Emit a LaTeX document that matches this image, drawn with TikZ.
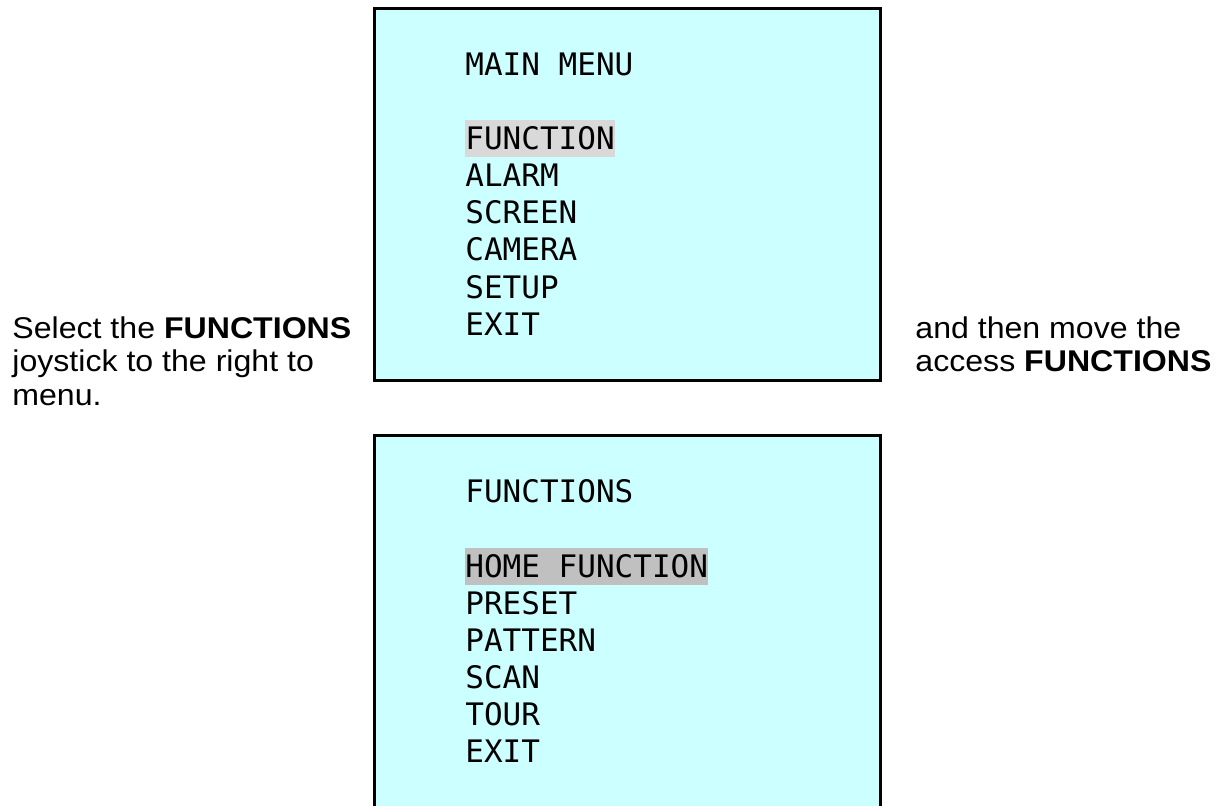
\documentclass[tikz,border=0pt]{standalone}
\usepackage{fontspec}
\setmainfont{Liberation Sans}[FakeStretch=1.07]
\setmonofont{DejaVu Sans Mono}
\usepackage{xcolor}
\usepackage{tikz}
\definecolor{screencyan}{HTML}{CCFFFF}
\definecolor{selgrey}{HTML}{D9D9D9}
\definecolor{seldark}{HTML}{C0C0C0}

\begin{document}
\begin{tikzpicture}[x=0.5pt, y=-0.5pt]
            \tikzset{
                screen/.style={draw, shape = rectangle, line width=1.5pt, fill=screencyan, inner sep=0pt, minimum width=253pt},
                item/.style={anchor=base west, inner sep=0pt, font=\fontsize{15.5}{18.5}\ttfamily},
                selected/.style={item, text height=14.5pt, text depth=4pt},
                note/.style={anchor=base west, inner sep=0pt, align=left, font=\fontsize{15}{16.75}\selectfont}
            }
            \useasboundingbox (0,0) rectangle (1218,805);
            \clip (0,0) rectangle (1218,805);

            % the two screens
            \node[screen, minimum height=186pt] (mainmenu) at (627.7,194.7) {};
            \node[screen, minimum height=210pt] (funcmenu) at (627.7,645.5) {};

            % main menu
            \node[item] (mainTitle) at (465,75) {MAIN MENU};
            \node[selected, fill=selgrey] (mainFunction) at (465,149) {FUNCTION};
            \foreach \label [count=\i] in {ALARM, SCREEN, CAMERA, SETUP, EXIT}
                \node[item] (main\i) at (465,149+37.3*\i) {\label};

            % functions menu
            \node[item] (funcTitle) at (465,502) {FUNCTIONS};
            \node[selected, fill=seldark] (funcHome) at (465,577) {HOME FUNCTION};
            \foreach \label [count=\i] in {PRESET, PATTERN, SCAN, TOUR, EXIT}
                \node[item] (func\i) at (465,577+37*\i) {\label};

            % instructions (base = last line)
            \node[note] (leftNote) at (12,405) {Select the \textbf{FUNCTIONS}\\joystick to the right to\\menu.};
            \node[note] (rightNote) at (915,371.5) {and then move the\\access \textbf{FUNCTIONS}};
        \end{tikzpicture}
\end{document}
